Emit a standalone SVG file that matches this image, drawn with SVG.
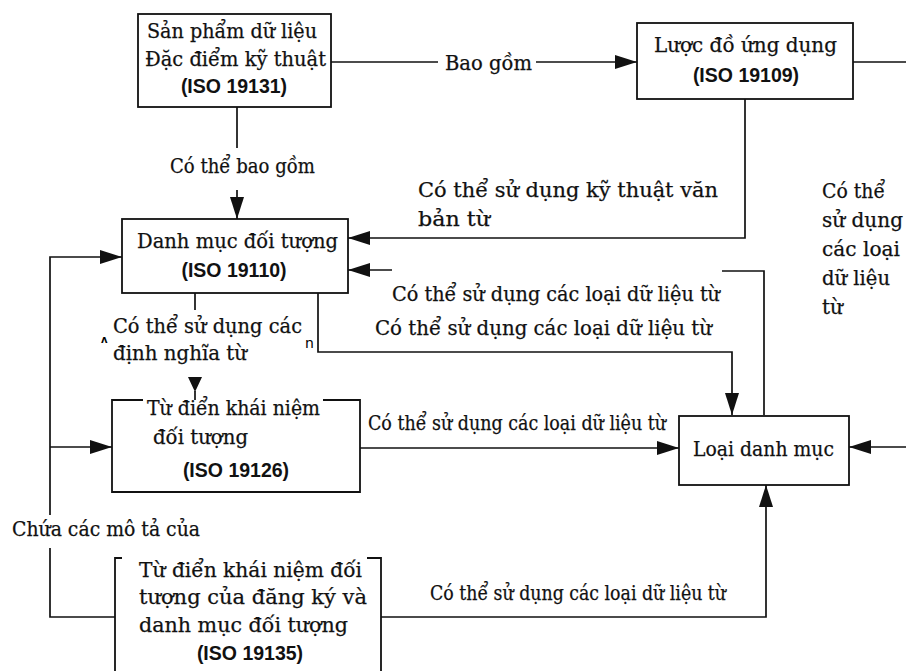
<svg xmlns="http://www.w3.org/2000/svg" width="906" height="671" viewBox="0 0 906 671">
  <defs>
    <style>
      .t { font-family: "DejaVu Serif", "Liberation Serif", serif; font-size: 20px; fill: #111; stroke: #111; stroke-width: 0.25; }
      .iso { font-family: "Liberation Sans", Arial, sans-serif; font-size: 19.5px; font-weight: bold; fill: #111; text-anchor: middle; }
      .box { fill: #fff; stroke: #111; stroke-width: 1.8; }
      .edge { fill: none; stroke: #111; stroke-width: 1.8; }
      .ln { fill: none; stroke: #111; stroke-width: 1.7; }
      .head { fill: #111; }
    </style>
    <marker id="arrow" markerUnits="userSpaceOnUse" markerWidth="22" markerHeight="14" refX="22" refY="7" orient="auto">
      <path class="head" d="M0,0 L22,7 L0,14 Z"/>
    </marker>
  </defs>

  <rect width="906" height="671" fill="#fff"/>

  <!-- connectors -->
  <g id="connectors">
    <!-- Sản phẩm -> Lược đồ (Bao gồm) -->
    <path class="ln" d="M331,62 H438"/>
    <path class="ln" d="M536,62 H637" marker-end="url(#arrow)"/>
    <!-- Sản phẩm -> Danh mục (Có thể bao gồm) -->
    <path class="ln" d="M237,107 V148"/>
    <path class="ln" d="M237,190 V219" marker-end="url(#arrow)"/>
    <!-- Lược đồ -> Danh mục -->
    <path class="ln" d="M745,99 V238 H348" marker-end="url(#arrow)"/>
    <!-- Lược đồ -> Loại danh mục (right side, runs off the edge) -->
    <path class="ln" d="M853,62 H915 V447 H849" marker-end="url(#arrow)"/>
    <!-- Loại danh mục -> Danh mục -->
    <path class="ln" d="M764,415 V271 H722"/>
    <path class="ln" d="M392,270 H348" marker-end="url(#arrow)"/>
    <!-- Danh mục -> Loại danh mục -->
    <path class="ln" d="M318,293 V352 H732 V415" marker-end="url(#arrow)"/>
    <!-- Danh mục -> Từ điển khái niệm -->
    <path class="ln" d="M195,293 V310"/>
    <path class="head" d="M188,377 H202 L195,392 Z"/>
    <path class="ln" d="M195,391 V400"/>
    <!-- Từ điển 19135 -> Danh mục / Từ điển 19126 (Chứa các mô tả của) -->
    <path class="ln" d="M115,617 H50 V548"/>
    <path class="ln" d="M50,515 V257 H122" marker-end="url(#arrow)"/>
    <path class="ln" d="M50,447 H112" marker-end="url(#arrow)"/>
    <!-- Từ điển 19126 -> Loại danh mục -->
    <path class="ln" d="M360,448 H679" marker-end="url(#arrow)"/>
    <!-- Từ điển 19135 -> Loại danh mục -->
    <path class="ln" d="M381,617 H766 V485" marker-end="url(#arrow)"/>
  </g>

  <!-- connector labels -->
  <g id="labels">
    <text class="t" x="445" y="70" textLength="87" lengthAdjust="spacingAndGlyphs">Bao gồm</text>
    <text class="t" x="170" y="173" textLength="145" lengthAdjust="spacingAndGlyphs">Có thể bao gồm</text>
    <text class="t" x="418" y="197" textLength="300" lengthAdjust="spacingAndGlyphs">Có thể sử dụng kỹ thuật văn</text>
    <text class="t" x="418" y="226" textLength="72" lengthAdjust="spacingAndGlyphs">bản từ</text>
    <text class="t" x="822" y="198" textLength="63" lengthAdjust="spacingAndGlyphs">Có thể</text>
    <text class="t" x="822" y="227" textLength="81" lengthAdjust="spacingAndGlyphs">sử dụng</text>
    <text class="t" x="822" y="256" textLength="78" lengthAdjust="spacingAndGlyphs">các loại</text>
    <text class="t" x="822" y="285" textLength="68" lengthAdjust="spacingAndGlyphs">dữ liệu</text>
    <text class="t" x="822" y="314">từ</text>
    <text class="t" x="392" y="301" textLength="328" lengthAdjust="spacingAndGlyphs">Có thể sử dụng các loại dữ liệu từ</text>
    <text class="t" x="375" y="335" textLength="337" lengthAdjust="spacingAndGlyphs">Có thể sử dụng các loại dữ liệu từ</text>
    <text class="t" x="113" y="333" textLength="189" lengthAdjust="spacingAndGlyphs">Có thể sử dụng các</text>
    <text class="t" x="113" y="360" textLength="134" lengthAdjust="spacingAndGlyphs">định nghĩa từ</text>
    <text x="101" y="343" style="font-family:'DejaVu Sans',sans-serif;font-size:10px;font-weight:bold">ʌ</text>
    <text x="305" y="348" style="font-family:'DejaVu Sans',sans-serif;font-size:14px">n</text>
    <text class="t" x="368" y="430" textLength="298" lengthAdjust="spacingAndGlyphs">Có thể sử dụng các loại dữ liệu từ</text>
    <text class="t" x="12" y="536" textLength="188" lengthAdjust="spacingAndGlyphs">Chứa các mô tả của</text>
    <text class="t" x="430" y="600" textLength="296" lengthAdjust="spacingAndGlyphs">Có thể sử dụng các loại dữ liệu từ</text>
  </g>

  <!-- nodes -->
  <g id="san-pham-du-lieu">
    <rect class="box" x="138" y="14" width="193" height="93"/>
    <text class="t" x="147" y="38" textLength="170" lengthAdjust="spacingAndGlyphs">Sản phẩm dữ liệu</text>
    <text class="t" x="145" y="66" textLength="181" lengthAdjust="spacingAndGlyphs">Đặc điểm kỹ thuật</text>
    <text class="iso" x="234" y="93">(ISO 19131)</text>
  </g>

  <g id="luoc-do-ung-dung">
    <rect class="box" x="637" y="23" width="216" height="76"/>
    <text class="t" x="654" y="52" textLength="183" lengthAdjust="spacingAndGlyphs">Lược đồ ứng dụng</text>
    <text class="iso" x="746" y="82">(ISO 19109)</text>
  </g>

  <g id="danh-muc-doi-tuong">
    <rect class="box" x="122" y="219" width="226" height="74"/>
    <text class="t" x="137" y="248" textLength="201" lengthAdjust="spacingAndGlyphs">Danh mục đối tượng</text>
    <text class="iso" x="234" y="277">(ISO 19110)</text>
  </g>

  <g id="tu-dien-khai-niem">
    <rect x="112" y="400" width="248" height="92" fill="#fff"/>
    <path class="edge" d="M143,400 H112 V492 H360 V400 H323"/>
    <text class="t" x="147" y="415" textLength="173" lengthAdjust="spacingAndGlyphs">Từ điển khái niệm</text>
    <text class="t" x="153" y="444" textLength="95" lengthAdjust="spacingAndGlyphs">đối tượng</text>
    <text class="iso" x="236" y="477">(ISO 19126)</text>
  </g>

  <g id="loai-danh-muc">
    <rect class="box" x="679" y="416" width="170" height="69"/>
    <text class="t" x="693" y="456" textLength="141" lengthAdjust="spacingAndGlyphs">Loại danh mục</text>
  </g>

  <g id="tu-dien-dang-ky">
    <rect x="115" y="558" width="266" height="120" fill="#fff"/>
    <path class="edge" d="M122,558 H115 V680"/>
    <path class="edge" d="M367,558 H381 V680"/>
    <text class="t" x="139" y="577" textLength="223" lengthAdjust="spacingAndGlyphs">Từ điển khái niệm đối</text>
    <text class="t" x="139" y="604" textLength="228" lengthAdjust="spacingAndGlyphs">tượng của đăng ký và</text>
    <text class="t" x="139" y="632" textLength="209" lengthAdjust="spacingAndGlyphs">danh mục đối tượng</text>
    <text class="iso" x="250" y="660">(ISO 19135)</text>
  </g>
</svg>
